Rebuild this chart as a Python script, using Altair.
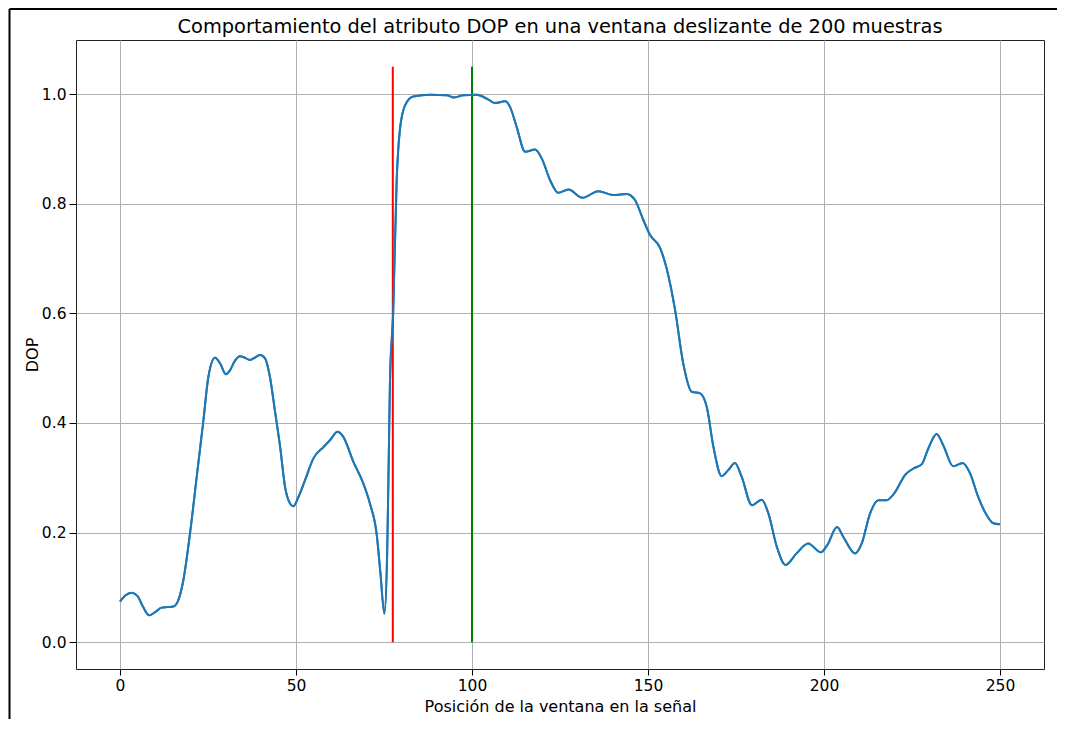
import altair as alt
import pandas as pd

pos = [0, 1.5, 3.3, 5, 6.5, 8.3, 10, 11.8, 13.5, 15.2, 16.6, 18, 19.9, 21.8, 23.7,
       25.1, 27, 28.5, 30.1, 31.25, 32.5, 34.1, 35.5, 36.9, 38.5, 39.8, 41.2, 42.6,
       44.0, 45.5, 46.9, 48.3, 49.2, 50.7, 52.6, 54.9, 57.8, 59.7, 61.8, 63.4, 66.3,
       69.1, 71.0, 72.9, 74.0, 75.1, 75.9, 76.4, 76.7, 77.6, 78.6, 79.5, 81, 83.3,
       88.1, 92.8, 94.9, 97.5, 101.3, 104.2, 106.5, 109.4, 110.8, 112.7, 115.1,
       117.9, 119.8, 122.2, 124.5, 127.4, 131.4, 135.9, 140.2, 143.9, 146.3, 148.7,
       150.6, 153.4, 155.3, 157.7, 160.0, 162.4, 164.8, 166.7, 168.6, 170.9, 172.8,
       174.7, 176.6, 179.5, 182.3, 184.2, 186.6, 189.1, 192.2, 195.5, 199.1, 201.0,
       203.7, 205.5, 208.8, 210.7, 213.1, 215.4, 217.8, 220.2, 223, 225.4, 227.8,
       229.6, 232.0, 233.9, 236.7, 239.4, 241.5, 243.8, 246.2, 248.1, 250]
dop = [0.074, 0.085, 0.090, 0.084, 0.065, 0.049, 0.055, 0.063, 0.064, 0.065, 0.077,
       0.113, 0.199, 0.302, 0.405, 0.484, 0.519, 0.508, 0.489, 0.496, 0.512, 0.522,
       0.519, 0.515, 0.520, 0.524, 0.518, 0.484, 0.423, 0.356, 0.283, 0.253, 0.248,
       0.265, 0.296, 0.335, 0.356, 0.369, 0.384, 0.375, 0.329, 0.290, 0.253, 0.198,
       0.125, 0.052, 0.162, 0.356, 0.478, 0.600, 0.843, 0.934, 0.980, 0.996, 0.999,
       0.998, 0.994, 0.998, 0.999, 0.992, 0.984, 0.987, 0.977, 0.940, 0.895, 0.899,
       0.883, 0.843, 0.820, 0.826, 0.811, 0.823, 0.816, 0.818, 0.807, 0.770, 0.743,
       0.720, 0.682, 0.606, 0.509, 0.457, 0.454, 0.429, 0.356, 0.303, 0.314, 0.327,
       0.302, 0.250, 0.260, 0.235, 0.174, 0.141, 0.162, 0.180, 0.164, 0.178, 0.210,
       0.192, 0.162, 0.180, 0.235, 0.259, 0.259, 0.274, 0.305, 0.317, 0.325, 0.353,
       0.380, 0.359, 0.321, 0.327, 0.308, 0.265, 0.232, 0.217, 0.215]

# Vertical markers
vline_pos = [77.5, 100]
vline_bottom = [0.0, 0.0]
vline_top = [1.05, 1.05]
vline_colors = ["#ff0000", "#008000"]

x_ticks = [0, 50, 100, 150, 200, 250]
y_ticks = [0.0, 0.2, 0.4, 0.6, 0.8, 1.0]

title_text = ["Comportamiento del atributo DOP en una ventana deslizante de 200 muestras"]

FONT = "DejaVu Sans"

df = pd.DataFrame({"pos": pos, "dop": dop})
vl = pd.DataFrame({"pos": vline_pos, "dop": vline_bottom, "dop2": vline_top,
                   "c": vline_colors})
frame_df = pd.DataFrame({"a": [0]})
title_df = pd.DataFrame({"t": title_text})

xscale = alt.Scale(domain=[-12.5, 262.5], nice=False, zero=False)
yscale = alt.Scale(domain=[-0.049, 1.099], nice=False, zero=False)

x_axis = alt.Axis(values=x_ticks, title="Posición de la ventana en la señal",
                  format="d", grid=True, tickSize=6, labelPadding=3,
                  titleY=42, titleBaseline="alphabetic")
y_axis = alt.Axis(values=y_ticks, title="DOP", format=".1f", grid=True,
                  tickSize=7, labelPadding=3, titleX=-39,
                  titleBaseline="alphabetic")

line = alt.Chart(df).mark_line(color="#1f77b4", strokeWidth=2,
                               interpolate="monotone").encode(
    x=alt.X("pos:Q", scale=xscale, axis=x_axis),
    y=alt.Y("dop:Q", scale=yscale, axis=y_axis),
)

vlines = alt.Chart(vl).mark_rule(strokeWidth=2).encode(
    x=alt.X("pos:Q", scale=xscale, axis=x_axis),
    y=alt.Y("dop:Q", scale=yscale, axis=y_axis),
    y2="dop2:Q",
    color=alt.Color("c:N", scale=None),
)

frame_left = alt.Chart(frame_df).mark_rule(color="black", strokeWidth=2).encode(
    x=alt.value(-66.5), y=alt.value(-31), y2=alt.value(700))
frame_top = alt.Chart(frame_df).mark_rule(color="black", strokeWidth=2).encode(
    x=alt.value(-66.5), x2=alt.value(1000), y=alt.value(-31))

title = alt.Chart(title_df).mark_text(
    font=FONT, fontSize=19.4, color="black", align="center", baseline="alphabetic"
).encode(text="t:N", x=alt.value(484), y=alt.value(-7))

chart = alt.layer(line, vlines, line, frame_left, frame_top, title).properties(
    width=968, height=629,
    padding={"left": 68, "top": 32, "right": 13, "bottom": 50},
    autosize=alt.AutoSizeParams(type="none"),
    background="white",
).configure_view(
    stroke="#222222", strokeWidth=1
).configure_axis(
    labelFont=FONT, labelFontSize=15.5, labelColor="black",
    titleFont=FONT, titleFontSize=16, titleColor="black", titleFontWeight="normal",
    gridColor="#b0b0b0", gridWidth=1, gridOpacity=1,
    tickColor="black", tickWidth=1, domain=False,
)

chart.save("out.html", embed_options={"renderer": "svg", "actions": False})
